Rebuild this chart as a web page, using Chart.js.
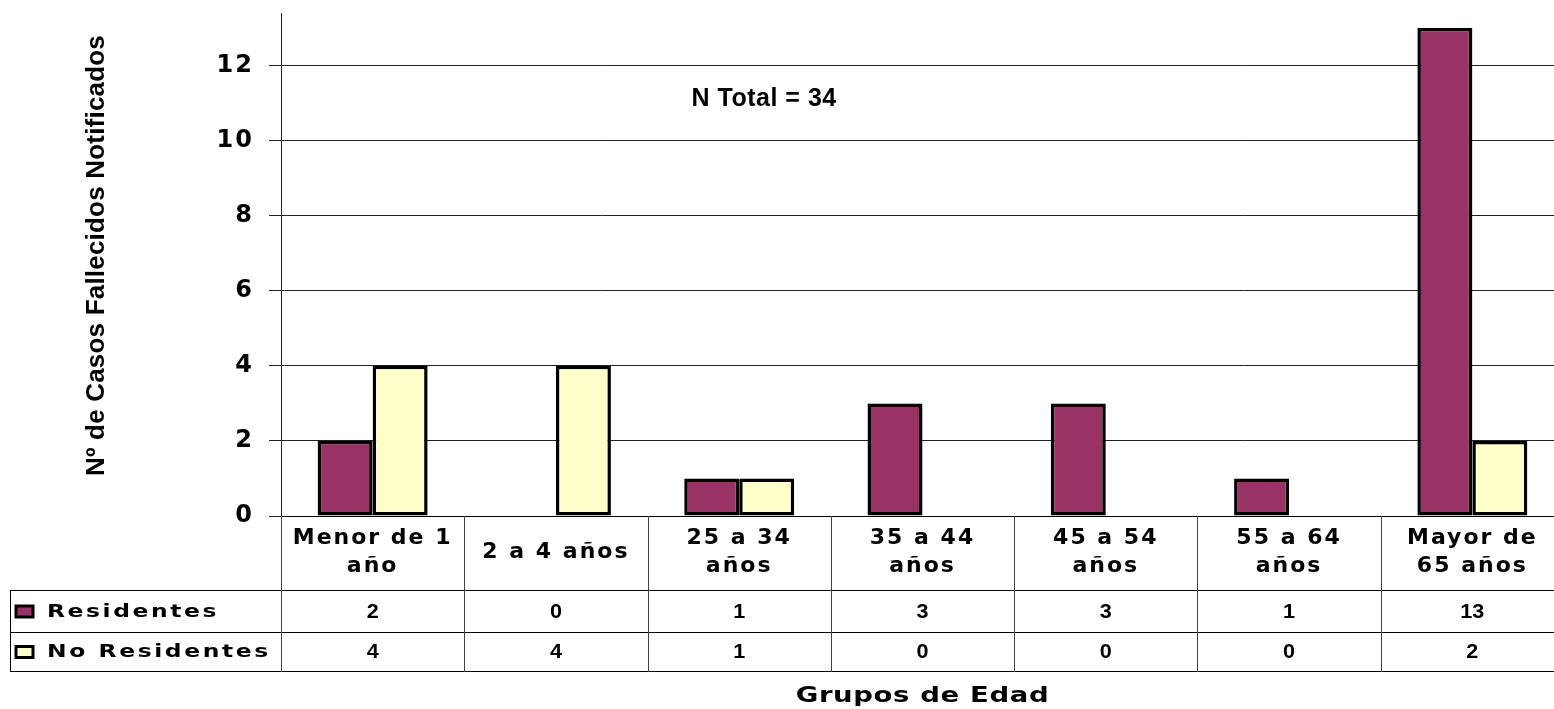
<!DOCTYPE html>
<html>
<head>
<meta charset="utf-8">
<script src="https://cdn.jsdelivr.net/npm/chart.js@4/dist/chart.umd.min.js"></script>
<style>
  html, body { margin: 0; padding: 0; background: #fff; overflow: hidden; }
  #wrap { position: relative; width: 1566px; height: 709px; }
</style>
</head>
<body>
<div id="wrap"><canvas id="c"></canvas></div>
<script>
// ---- data ----
const categories = [['Menor de 1', 'año'], '2 a 4 años', ['25 a 34', 'años'], ['35 a 44', 'años'], ['45 a 54', 'años'], ['55 a 64', 'años'], ['Mayor de', '65 años']];
const seriesNames = ['Residentes', 'No Residentes'];
const residentes = [2, 0, 1, 3, 3, 1, 13];
const noResidentes = [4, 4, 1, 0, 0, 0, 2];
const yMin = 0;
const yMax = 13.4;
const yStep = 2;
const yTitle = 'Nº de Casos Fallecidos Notificados';
const xTitle = 'Grupos de Edad';
const note = 'N Total = 34';

const colors = ['#993366', '#FFFFCC'];
const DV = '"DejaVu Sans", sans-serif';
const LS = '"Liberation Sans", Arial, sans-serif';

Chart.defaults.color = '#000';
Chart.defaults.font.family = DV;

// draw text with horizontal stretch factor sx and letter spacing
function stretchedText(ctx, text, x, y, sx, spacing, align) {
  ctx.save();
  ctx.letterSpacing = spacing + 'px';
  const w = ctx.measureText(text).width * sx;
  let x0 = x;
  if (align === 'center') x0 = x - w / 2;
  else if (align === 'right') x0 = x - w;
  ctx.translate(x0, y);
  ctx.scale(sx, 1);
  ctx.textAlign = 'left';
  ctx.fillText(text, 0, 0);
  ctx.restore();
}

const tablePlugin = {
  id: 'dataTable',
  beforeDraw(chart) { chart.ctx.letterSpacing = '2px'; },
  beforeDatasetsDraw(chart) { chart.ctx.letterSpacing = '0px'; },
  afterDraw(chart) {
    const ctx = chart.ctx;
    const x = chart.scales.x, y = chart.scales.y;
    const area = chart.chartArea;
    const n = categories.length;
    const step = (x.right - x.left) / n;
    const y0 = area.bottom;
    const r1 = y0 + 74, r2 = y0 + 116, r3 = y0 + 155;
    const tableLeft = 10;
    ctx.save();
    ctx.letterSpacing = '0px';
    ctx.lineWidth = 1;
    ctx.strokeStyle = '#000';
    const hline = (yy, x1, x2) => { ctx.beginPath(); ctx.moveTo(x1, Math.round(yy) + 0.5); ctx.lineTo(x2, Math.round(yy) + 0.5); ctx.stroke(); };
    const vline = (xx, y1, y2) => { ctx.beginPath(); ctx.moveTo(Math.round(xx) + 0.5, y1); ctx.lineTo(Math.round(xx) + 0.5, y2); ctx.stroke(); };
    hline(r1, tableLeft, chart.width);
    hline(r2, tableLeft, chart.width);
    hline(r3, tableLeft, chart.width);
    vline(tableLeft, r1, r3 + 1);
    ctx.strokeStyle = '#444';
    for (let k = 0; k <= n; k++) {
      const xx = x.getPixelForValue(k) - step / 2;
      vline(xx, y0, r3 + 1);
    }
    // values
    const rows = [residentes, noResidentes];
    const centers = [(r1 + r2) / 2 + 1, (r2 + r3) / 2 + 1];
    ctx.fillStyle = '#000';
    ctx.textBaseline = 'middle';
    ctx.font = 'bold 20px ' + LS;
    rows.forEach((vals, r) => {
      vals.forEach((v, i) => {
        stretchedText(ctx, String(v), x.getPixelForValue(i), centers[r], 1.08, 0, 'center');
      });
    });
    // legend keys + row labels
    rows.forEach((vals, r) => {
      const cy = centers[r];
      ctx.fillStyle = colors[r];
      ctx.fillRect(16, cy - 6, 17, 11);
      ctx.lineWidth = 3;
      ctx.strokeStyle = '#000';
      ctx.strokeRect(16, cy - 6, 17, 11);
      ctx.fillStyle = '#000';
      ctx.font = 'bold 18px ' + DV;
      stretchedText(ctx, seriesNames[r], 47, cy, 1.3, 2, 'left');
    });
    // x axis title
    ctx.font = 'bold 22px ' + DV;
    stretchedText(ctx, xTitle, (x.left + x.right) / 2, chart.height - 13, 1.25, 0.5, 'center');
    // y axis title (rotated)
    ctx.save();
    ctx.translate(97, (y.top + y.bottom) / 2 - 9);
    ctx.rotate(-Math.PI / 2);
    ctx.font = 'bold 26px ' + LS;
    stretchedText(ctx, yTitle, 0, 0, 1.0, 0.2, 'center');
    ctx.restore();
    // note
    ctx.font = 'bold 25px ' + LS;
    stretchedText(ctx, note, x.getPixelForValue(1.74), y.getPixelForValue(11.1), 1.0, 0.5, 'left');
    ctx.restore();
  }
};

new Chart(document.getElementById('c'), {
  type: 'bar',
  data: {
    labels: categories,
    datasets: [
      { label: seriesNames[0], data: residentes, backgroundColor: colors[0], borderColor: '#000', borderWidth: 3.5, borderSkipped: false },
      { label: seriesNames[1], data: noResidentes, backgroundColor: colors[1], borderColor: '#000', borderWidth: 3.5, borderSkipped: false }
    ]
  },
  options: {
    responsive: true,
    maintainAspectRatio: false,
    animation: false,
    events: [],
    layout: { padding: { top: 13, right: 2, left: 0, bottom: 0 } },
    datasets: { bar: { categoryPercentage: 0.6, barPercentage: 1.0 } },
    plugins: { legend: { display: false }, tooltip: { enabled: false } },
    scales: {
      x: {
        grid: { display: false },
        border: { display: true, color: '#000', width: 1 },
        ticks: {
          autoSkip: false, maxRotation: 0, minRotation: 0, padding: 14, crossAlign: 'center',
          font: { size: 22, weight: 'bold', family: DV, lineHeight: 1.27 }, color: '#000'
        },
        afterFit(s) { s.height = 193; s.paddingLeft = 0; s.paddingRight = 0; }
      },
      y: {
        min: yMin, max: yMax,
        grid: { color: '#222', lineWidth: 1, tickLength: 12, drawTicks: true },
        border: { display: true, color: '#222', width: 1 },
        ticks: {
          stepSize: yStep, includeBounds: false, padding: 15,
          font: { size: 24, weight: 'bold', family: DV, lineHeight: 1 }, color: '#000'
        },
        title: { display: false, text: yTitle },
        afterFit(s) { s.width = 281; s.paddingTop = 0; s.paddingBottom = 0; }
      }
    }
  },
  plugins: [tablePlugin]
});
</script>
</body>
</html>
